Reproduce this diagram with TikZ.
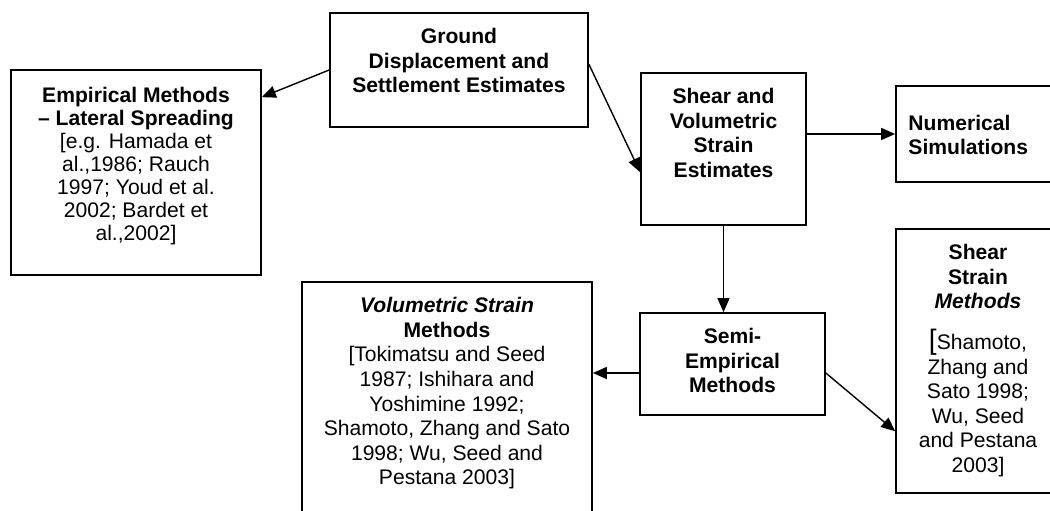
\documentclass[tikz,border=0pt]{standalone}
\usepackage{fontspec}
\setmainfont{Liberation Sans}
\usetikzlibrary{arrows.meta,positioning}
\tikzset{
  box/.style 2 args={draw,line width=1.2pt,inner sep=0pt,
    minimum width=#1*0.025cm,minimum height=#2*0.025cm},
  txt/.style ={font=\fontsize{15}{17.5}\selectfont\bfseries,align=center,anchor=north,inner sep=0pt,yshift=-4mm},
  ar/.style  ={line width=1pt,-{Triangle[length=3.5mm,width=3mm]}},
}
\newcommand{\rg}{\mdseries\upshape}
\begin{document}
\begin{tikzpicture}[x=0.025cm,y=-0.025cm]
  \clip (0,0) rectangle (1050,511);
  \node[box={258}{114},label={[txt]north:{Ground\\Displacement and\\Settlement Estimates}}] (ground) at (459,70) {};
  \node[box={250}{205},label={[txt,font=\fontsize{15}{16.3}\selectfont\bfseries,yshift=-0.5mm]north:{Empirical Methods\\-- Lateral Spreading\\\rg{[}e.g. Hamada et\\\rg al.,1986; Rauch\\\rg 1997; Youd et al.\\\rg 2002; Bardet et\\\rg al.,2002]}}] (empir) at (136,172.5) {};
  \node[box={165}{152},label={[txt]north:{Shear and\\Volumetric\\Strain\\Estimates}}] (strain) at (723.5,149) {};
  \node[box={174}{96},label={[txt,anchor=north west,align=left,xshift=3.25mm,yshift=-3.4mm]north west:{Numerical\\Simulations}}] (numer) at (983,134) {};
  \node[box={185}{102},label={[txt]north:{Semi-\\Empirical\\Methods}}] (semi) at (732.5,364) {};
  \node[box={290}{248},label={[txt]north:{\itshape Volumetric Strain\\Methods\\\rg{[}Tokimatsu and Seed\\\rg 1987; Ishihara and\\\rg Yoshimine 1992;\\\rg Shamoto, Zhang and Sato\\\rg 1998; Wu, Seed and\\\rg Pestana 2003]}}] (volum) at (447,406) {};
  \node[box={164}{264},label={[txt]north:{Shear\\Strain\\\itshape Methods\\[4mm]\rg{\fontsize{20}{20}\selectfont[}Shamoto,\\\rg Zhang and\\\rg Sato 1998;\\\rg Wu, Seed\\\rg and Pestana\\\rg 2003]}}] (shears) at (978,361) {};

  \draw[ar] (ground.west) -- ([yshift=-7mm]empir.north east);
  \draw[ar] ([yshift=-13mm]ground.north east) -- ([yshift=-25mm]strain.north west);
  \draw[ar] (numer.west -| strain.east) -- (numer.west);
  \draw[ar] (strain.south) -- (strain.south |- semi.north);
  \draw[ar] ([yshift=-2.25mm]semi.west) -- ([yshift=-2.25mm]semi.west -| volum.east);
  \draw[ar] ([yshift=-2.25mm]semi.east) -- ([yshift=-50.75mm]shears.north west);
\end{tikzpicture}
\end{document}
